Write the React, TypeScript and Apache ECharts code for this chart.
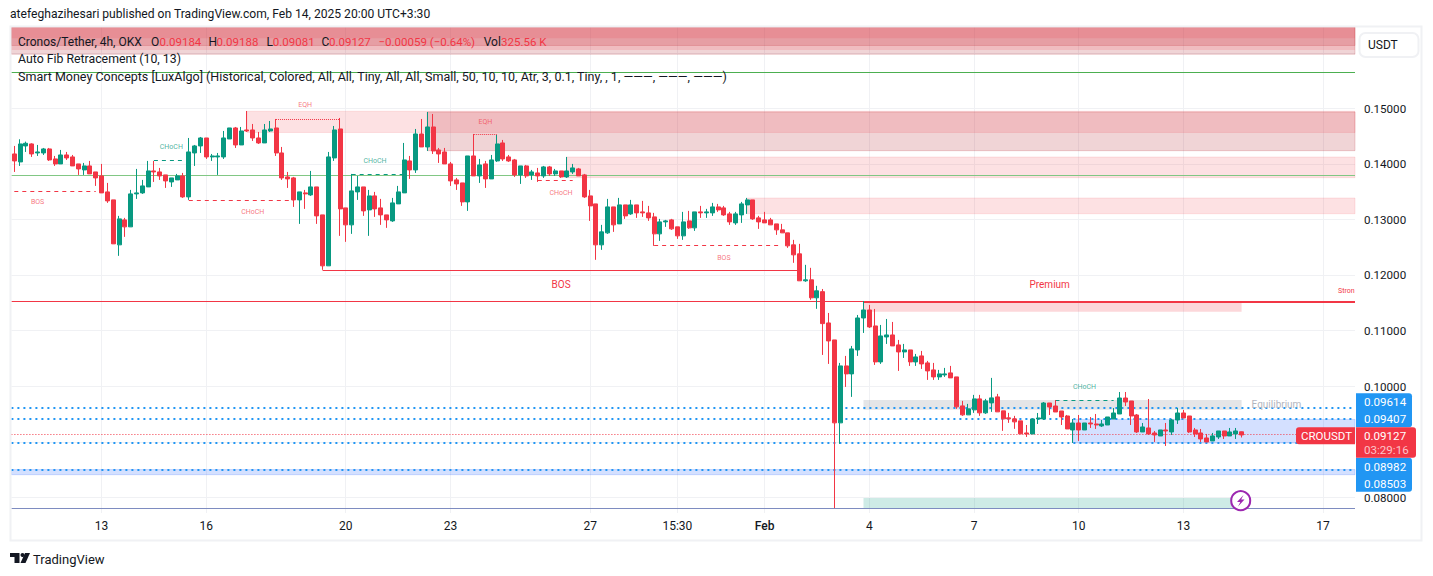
import React, { useEffect, useRef } from "react";
import * as echarts from "echarts";

// Price tables, rows are [open, close, low, high]
const candlesA: number[][] = [
[.1419,.14064,.13866,.14334],[.14046,.1437,.13974,.14454],[.14334,.14382,.14226,.14412],[.1437,.1419,.14136,.14382],[.14208,.14226,.14154,.14352],
[.14208,.1428,.14172,.14298],[.1428,.14082,.14064,.14298],[.141,.1401,.13974,.14154],[.1401,.14172,.1401,.14262],[.14172,.14118,.14082,.14226],
[.14136,.13974,.13974,.14172],[.1401,.1392,.13812,.1401],[.13902,.13974,.13812,.14028],[.13974,.1383,.1383,.14064],[.13866,.13758,.13614,.13866],
[.13794,.13488,.13488,.1401],[.13506,.13344,.13308,.13668],[.13362,.1257,.1257,.13362],[.12552,.1302,.12354,.13074],[.13002,.12876,.12696,.13038],
[.12876,.1347,.12876,.13542],[.1347,.13488,.1338,.1392],[.13488,.13614,.1347,.13722],[.13596,.13884,.13596,.14064],[.13884,.13866,.13686,.14064],
[.13866,.13794,.13722,.13938],[.13812,.13704,.13578,.13812],[.13686,.13758,.13596,.13758],[.13722,.13794,.13722,.1383],[.13794,.13416,.13398,.13848],
[.13416,.14226,.13362,.14478],[.14208,.14334,.13974,.14352],[.14334,.14478,.14208,.14496],[.14478,.14136,.141,.14478],[.14136,.14154,.14064,.1419],
[.14136,.14154,.13812,.14208],[.14136,.14478,.141,.14604],[.1446,.14658,.1446,.14658],[.14658,.14352,.14298,.14676],[.14352,.14604,.14352,.14676],
[.14622,.14604,.14586,.14964],[.14622,.14478,.14424,.1473],[.14478,.14388,.1437,.14586],[.14388,.14622,.14388,.1473],[.14604,.1464,.14586,.14784],
[.14658,.14208,.14154,.1482],[.14208,.13758,.13722,.14316],[.13776,.1374,.13578,.13866],[.13758,.13362,.13236,.13776],[.13362,.13506,.1293,.13506],
];
const candlesB: number[][] = [
[.13488,.1347,.132,.13542],[.13452,.13596,.13434,.13884],[.13596,.13074,.1293,.13596],[.13092,.12174,.12102,.13092],[.12174,.14136,.12174,.14226],
[.14118,.14622,.14064,.14694],[.1464,.132,.12714,.14838],[.13218,.12912,.12606,.13218],[.12912,.13524,.1275,.1383],[.13506,.13596,.13362,.13794],
[.13596,.13164,.13074,.13596],[.13182,.13434,.12714,.13542],[.13434,.132,.13056,.13506],[.13218,.13092,.12912,.1338],[.13092,.13002,.12858,.13092],
[.12984,.13308,.12966,.13398],[.1329,.13506,.1329,.13614],[.13488,.14082,.13488,.14388],[.14064,.13902,.1374,.14154],[.13902,.1455,.13848,.1464],
[.1455,.14316,.14316,.1482],[.14316,.14676,.14244,.14946],[.14676,.14244,.1419,.1491],[.14262,.1419,.14028,.14298],[.14226,.1401,.1401,.14298],
[.1401,.13704,.13614,.14046],[.13722,.1365,.13542,.13758],[.13668,.13326,.13254,.13668],[.13326,.14154,.13164,.14154],[.14154,.13794,.13794,.1455],
[.13794,.13992,.13668,.141],[.1401,.1374,.13578,.14064],[.1374,.14082,.1374,.14172],[.14064,.1437,.14046,.14532],[.14388,.141,.14064,.14442],
[.14136,.14064,.14046,.14172],[.14082,.13812,.13776,.141],[.13812,.13974,.1365,.13974],[.13974,.13794,.13758,.13992],[.13812,.13866,.13722,.13902],
[.13848,.13794,.13686,.13938],[.13794,.13956,.13758,.13974],[.13956,.1383,.13794,.13974],[.1383,.13884,.13794,.1392],[.13884,.13776,.13758,.13884],
[.13776,.13884,.13758,.14136],[.13866,.13938,.1383,.1401],[.1392,.13794,.13794,.13938],[.13812,.13416,.13398,.1383],[.13434,.13254,.12984,.13542],
[.1329,.12552,.12282,.1329],
];
const candlesC: number[][] = [
[.12552,.12786,.12462,.12912],[.12768,.13236,.1275,.1338],[.13236,.12912,.12786,.13236],[.1293,.13272,.1293,.13398],[.13272,.13074,.1302,.13272],
[.1311,.13272,.13092,.13362],[.13272,.13128,.13038,.13272],[.13146,.13128,.13056,.13344],[.13128,.13038,.12984,.13254],[.13056,.1275,.12534,.13128],
[.1275,.12966,.12624,.1302],[.12966,.12984,.12876,.13002],[.13002,.1284,.12822,.1302],[.12876,.12714,.1266,.12876],[.12714,.12966,.12642,.13146],
[.12984,.12858,.1284,.13164],[.12858,.13146,.12804,.13146],[.13146,.13128,.13038,.13254],[.13128,.13146,.13038,.132],[.13128,.13236,.13074,.13308],
[.13236,.13182,.13146,.1329],[.13218,.13092,.13074,.13254],[.1311,.12966,.12912,.13146],[.12948,.1311,.12912,.13146],[.13092,.1329,.12948,.13326],
[.13272,.13362,.1311,.13398],[.13362,.1302,.13002,.13362],[.13038,.12966,.1284,.13074],[.13002,.12948,.12948,.13146],[.13002,.12912,.12912,.13038],
[.1293,.12822,.12732,.1293],[.12822,.12768,.12768,.1293],[.12768,.12534,.12498,.12768],[.12552,.12372,.12228,.12642],[.1239,.11904,.11904,.1257],
[.11904,.11922,.11886,.12192],[.11922,.11598,.11562,.12138],[.11598,.11724,.114,.11814],
];
const candlesD: number[][] = [
[.11709,.11133,.10569,.11757],[.11145,.10821,.10407,.11325],[.10839,.09345,.07809,.10839],[.09345,.10371,.08967,.10425],[.10371,.10227,.09993,.10551],
[.10227,.10677,.09813,.10731],[.10659,.11235,.10551,.11289],[.11235,.11379,.10965,.11541],[.11379,.11073,.11055,.11469],[.11091,.10443,.10389,.11397],
[.10443,.10911,.10407,.11109],[.10893,.10929,.10767,.11217],[.10929,.10731,.10731,.11163],[.10749,.10623,.10281,.10839],[.10623,.10659,.10515,.10767],
[.10659,.10443,.10371,.10659],[.10443,.10533,.10371,.10587],[.10551,.10407,.10317,.10641],[.10425,.10281,.10119,.10461],[.10299,.10173,.10119,.10425],
[.10173,.10227,.10119,.10299],[.10209,.10227,.10173,.10335],[.10245,.10155,.10155,.10371],[.10173,.09633,.09597,.10173],[.09651,.09489,.09471,.09741],
[.09489,.09597,.09489,.09687],[.09579,.09777,.09525,.09849],[.09777,.09525,.09471,.09849],[.09525,.09741,.09507,.09777],[.09705,.09795,.09543,.10155],
[.09813,.09543,.09543,.09867],[.09561,.09417,.09201,.09561],[.09435,.09417,.09345,.09525],[.09417,.09363,.09237,.09471],[.09381,.09147,.09147,.09381],
[.09163,.09145,.09091,.09307],[.09145,.09415,.09145,.09415],[.09415,.09433,.09325,.09523],[.09415,.09703,.09397,.09721],[.09703,.09631,.09487,.09703],
[.09649,.09541,.09541,.09757],[.09559,.09451,.09307,.09559],[.09469,.09235,.09235,.09487],[.09217,.09343,.08983,.09415],[.09343,.09217,.09019,.09487],
[.09217,.09343,.09217,.09343],[.09343,.09325,.09253,.09451],[.09325,.09307,.09235,.09505],[.09289,.09325,.09271,.09397],[.09307,.09451,.09307,.09451],
[.09415,.09523,.09415,.09613],[.09505,.09793,.09505,.09901],[.09793,.09721,.09649,.09901],[.09739,.09469,.09307,.09739],[.09487,.09181,.09163,.09505],
[.09181,.09271,.09181,.09343],[.09253,.09145,.09127,.09775],[.09163,.09127,.09001,.09199],[.09109,.09217,.09109,.09217],[.09217,.09199,.08929,.09343],
[.09181,.09397,.09127,.09415],[.09397,.09523,.09325,.09613],[.09523,.09433,.09433,.09577],[.09469,.09181,.09163,.09469],[.09217,.09145,.09091,.09253],
[.09163,.09055,.09001,.09235],[.09073,.09001,.09001,.09145],[.09019,.09109,.09019,.09163],[.09091,.09199,.09055,.09199],[.09199,.09109,.09055,.09199],
[.09109,.09181,.09109,.09253],[.09145,.09199,.09055,.09253],[.09184,.09127,.09081,.09188],
];

const barCount = 231;
const tickIndices = [15, 33, 57, 75, 99, 114, 129, 147, 165, 183, 201, 225];
const tickLabels = ["13", "16", "20", "23", "27", "15:30", "Feb", "4", "7", "10", "13", "17"];
const gridPrices = [0.08, 0.09, 0.1, 0.11, 0.12, 0.13, 0.14, 0.15, 0.16];
const priceLabels = [0.08, 0.1, 0.11, 0.12, 0.13, 0.14, 0.15];
const priceTop = 0.16477;
const priceBottom = 0.07721;

// zones: [fromIndex, toIndex (-1 = right edge), topPrice, bottomPrice]
const zonesLightRed = [
  [40, -1, 0.14959, 0.14577],
  [95, -1, 0.14135, 0.13762],
  [126, -1, 0.13396, 0.13113],
];
const zonesDarkRed = [
  [71, -1, 0.14946, 0.14249],
  [-1, -1, 0.16477, 0.15986],
  [-1, -1, 0.16477, 0.16144],
];
const zonesTopLight = [
  [-1, -1, 0.16477, 0.16063],
  [-1, -1, 0.16477, 0.16274],
];
const zonesPremium = [[146, 211, 0.11513, 0.11348]];
const zonesEquilibrium = [[146, 211, 0.09757, 0.09582]];
const zonesDiscount = [[146, 211, 0.07991, 0.07798]];
const zonesBlue = [
  [182, -1, 0.09407, 0.08982],
  [-1, -1, 0.08503, 0.08411],
];

// segments: [fromIndex, toIndex, price]
const dashedRed = [[0, 14, 0.13517], [30, 48, 0.13355], [90, 96, 0.13703], [110, 132, 0.12544]];
const dashedGreen = [[24, 29, 0.14076], [58, 67, 0.13823], [179, 189, 0.09744]];
const dottedEqh = [[45, 56, 0.14814], [79, 83, 0.14544]];
const solidBos = [[53, 135, 0.12094]];
const strongHigh = [[146, -1, 0.11525]];

// full-width levels
const fibGreen = [0.15658];
const fibLightGreen = [0.13805];
const fibRed = [0.11523];
const fibBlue = [0.07802];
const supportLevels = [0.09614, 0.09407, 0.08982, 0.08503];
const lastPrice = [0.09127];

// labels: [index, price, text]
const smallRedLabels: [number, number, string][] = [
  [4, 0.13324, "BOS"], [41, 0.13144, "CHoCH"], [50, 0.15072, "EQH"], [81, 0.14757, "EQH"], [94, 0.13486, "CHoCH"], [122, 0.12324, "BOS"],
];
const smallGreenLabels: [number, number, string][] = [
  [27, 0.14315, "CHoCH"], [62, 0.14063, "CHoCH"], [184, 0.09991, "CHoCH"],
];
const zoneLabels: [number, number, string][] = [[94, 0.11829, "BOS"], [178, 0.11829, "Premium"]];
const strongLabel: [number, number, string][] = [[229, 0.11715, "Stron"]];
const equilibriumLabel: [number, number, string][] = [[217, 0.09667, "Equilibrium"]];

const headerText = "atefeghazihesari published on TradingView.com, Feb 14, 2025 20:00 UTC+3:30";
const indicatorLines = [
  "Auto Fib Retracement (10, 13)",
  "Smart Money Concepts [LuxAlgo] (Historical, Colored, All, All, Tiny, All, All, Small, 50, 10, 10, Atr, 3, 0.1, Tiny, , 1, ———, ———, ———)",
];
const legendPieces: [number, string, boolean][] = [
  [18, "Cronos/Tether, 4h, OKX", false], [151, "O", false], [159.5, "0.09184", true], [208.6, "H", false], [216.6, "0.09188", true],
  [266.6, "L", false], [272.8, "0.09081", true], [321.4, "C", false], [329, "0.09127", true],
  [378.5, "−0.00059 (−0.64%)", true], [483.7, "Vol", false], [501, "325.56 K", true],
];
const blueTagsTop = ["0.09614", "0.09407"];
const blueTagsBottom = ["0.08982", "0.08503"];

const FONT = "Roboto, sans-serif";
const GREEN = "#089981";
const RED = "#f23645";
const GRID = "#f0f1f4";

const zoneSeries = (name: string, rows: number[][], fill: string, stroke: string) => ({
  type: "custom", name, silent: true, z: 2, data: rows, dimensions: ["a", "b", "t", "u"],
  encode: { x: [0, 1], y: [2, 3] },
  renderItem: (params: any, api: any) => {
    const cs = params.coordSys;
    const from = api.value(0), to = api.value(1);
    const x0 = from < 0 ? cs.x : api.coord([from, 0.1])[0];
    const x1 = to < 0 ? cs.x + cs.width : api.coord([to, 0.1])[0];
    const y0 = api.coord([0, api.value(2)])[1];
    const y1 = api.coord([0, api.value(3)])[1];
    return {
      type: "rect", shape: { x: x0, y: y0, width: x1 - x0, height: y1 - y0 },
      style: { fill, stroke: stroke || undefined, lineWidth: stroke ? 1 : 0 },
    };
  },
});

const segmentSeries = (name: string, rows: number[][], stroke: string, lineWidth: number, lineDash: any, z = 3) => ({
  type: "custom", name, silent: true, z, data: rows, dimensions: ["a", "b", "p"],
  encode: { x: [0, 1], y: 2 },
  renderItem: (params: any, api: any) => {
    const cs = params.coordSys;
    const from = api.value(0), to = api.value(1);
    const x0 = from < 0 ? cs.x : api.coord([from, 0.1])[0];
    const x1 = to < 0 ? cs.x + cs.width : api.coord([to, 0.1])[0];
    const raw = api.coord([0, api.value(2)])[1];
    const y = lineWidth % 2 ? Math.floor(raw) + 0.5 : Math.round(raw);
    return { type: "line", shape: { x1: x0, y1: y, x2: x1, y2: y }, style: { stroke, lineWidth, lineDash } };
  },
});

const levelSeries = (name: string, prices: number[], stroke: string, lineWidth: number, lineDash: any, z = 3) =>
  segmentSeries(name, prices.map((p) => [-1, -1, p]), stroke, lineWidth, lineDash, z);

const labelSeries = (name: string, rows: [number, number, string][], fill: string, fontSize: number, align = "center") => ({
  type: "custom", name, silent: true, z: 6, data: rows.map((r) => [r[0], r[1], r[2]]), dimensions: ["i", "p", { name: "t", type: "ordinal" }],
  encode: { x: 0, y: 1 },
  renderItem: (_params: any, api: any) => {
    const pt = api.coord([api.value(0), api.value(1)]);
    return {
      type: "text", x: pt[0], y: pt[1],
      style: { text: rows[_params.dataIndex][2], fill, fontSize, fontFamily: FONT, align, verticalAlign: "middle" },
    };
  },
});

const verticalGrid = {
  type: "custom", name: "timeGrid", silent: true, z: 1, data: tickIndices.map((i) => [i, 0.1]),
  encode: { x: 0, y: 1 },
  renderItem: (params: any, api: any) => {
    const cs = params.coordSys;
    const x = Math.floor(api.coord([api.value(0), 0.1])[0]) + 0.5;
    return { type: "line", shape: { x1: x, y1: cs.y, x2: x, y2: cs.y + cs.height }, style: { stroke: GRID, lineWidth: 1 } };
  },
};

const textEl = (x: number, y: number, text: string, fill: string, fontSize = 12, extra: any = {}) => ({
  type: "text", x, y, z: 50,
  style: { text, fill, fontSize, fontFamily: FONT, verticalAlign: "middle", ...extra },
});

export default function App() {
  const ref = useRef<HTMLDivElement>(null);
  useEffect(() => {
    document.body.style.margin = "0";
    const chart = echarts.init(ref.current!, null, { renderer: "svg" });
    const candles = [...candlesA, ...candlesB, ...candlesC, ...candlesD];
    const categories = Array.from({ length: barCount }, (_, i) => String(i));
    chart.setOption({
      animation: false,
      backgroundColor: "#ffffff",
      grid: { left: 11.4, right: 78, top: 27, bottom: 63, containLabel: false },
      xAxis: {
        type: "category", data: categories, boundaryGap: true,
        axisLine: { show: false }, axisTick: { show: false }, splitLine: { show: false },
        axisLabel: {
          margin: 7, fontSize: 12, fontFamily: FONT, color: "#131722", hideOverlap: false,
          interval: (i: number) => tickIndices.includes(i),
          formatter: (_v: string, i: number) => {
            const t = tickLabels[tickIndices.indexOf(i)];
            return t === "Feb" ? "{b|Feb}" : t;
          },
          rich: { b: { fontWeight: 500, fontSize: 12, fontFamily: FONT, color: "#131722" } },
        },
      },
      yAxis: {
        type: "value", position: "right", min: priceBottom, max: priceTop, scale: false,
        axisLine: { show: false }, axisTick: { show: false }, splitLine: { show: false },
        axisLabel: {
          margin: 9, fontSize: 11.6, fontFamily: FONT, color: "#131722",
          customValues: priceLabels,
          formatter: (v: number) => v.toFixed(5),
        },
      },
      series: [
        verticalGrid,
        levelSeries("priceGrid", gridPrices, GRID, 1, undefined, 1),
        zoneSeries("zonesDark", zonesDarkRed, "rgba(178,40,51,0.2)", "rgba(178,40,51,0.2)"),
        zoneSeries("zonesTop", zonesTopLight, "rgba(242,54,69,0.15)", ""),
        zoneSeries("zonesLight", zonesLightRed, "rgba(242,54,69,0.15)", "rgba(242,54,69,0.12)"),
        zoneSeries("premium", zonesPremium, "rgba(242,54,69,0.2)", ""),
        zoneSeries("equilibrium", zonesEquilibrium, "rgba(120,123,134,0.2)", ""),
        zoneSeries("discount", zonesDiscount, "rgba(8,153,129,0.2)", ""),
        zoneSeries("blue", zonesBlue, "rgba(41,98,255,0.2)", "rgba(41,98,255,0.2)"),
        levelSeries("fibGreen", fibGreen, "#4caf50", 1, undefined),
        levelSeries("fibLightGreen", fibLightGreen, "#81c784", 1, undefined),
        levelSeries("fibRed", fibRed, RED, 1, undefined),
        levelSeries("fibBlue", fibBlue, "#7e8cc0", 1, undefined),
        segmentSeries("strongHigh", strongHigh, RED, 2, undefined),
        levelSeries("support", supportLevels, "#2196f3", 2, [2, 4]),
        levelSeries("last", lastPrice, RED, 1, [1, 2]),
        segmentSeries("dashedRed", dashedRed, RED, 1, [4, 4]),
        segmentSeries("dashedGreen", dashedGreen, GREEN, 1, [4, 4]),
        segmentSeries("dottedEqh", dottedEqh, RED, 1, [1, 1]),
        segmentSeries("solidBos", solidBos, RED, 1, undefined),
        {
          type: "candlestick", name: "CROUSDT", z: 5, barWidth: 4.5, data: candles, silent: true,
          itemStyle: { color: GREEN, color0: RED, borderColor: GREEN, borderColor0: RED, borderWidth: 1 },
        },
        labelSeries("smallRed", smallRedLabels, "rgba(242,54,69,0.7)", 7),
        labelSeries("smallGreen", smallGreenLabels, "rgba(8,153,129,0.75)", 7),
        labelSeries("zoneLabels", zoneLabels, RED, 10),
        labelSeries("strong", strongLabel, RED, 7),
        labelSeries("equilibriumText", equilibriumLabel, "#b2b5be", 10),
      ],
      graphic: [
        { type: "rect", z: 40, silent: true, shape: { x: 10.5, y: 26.5, width: 1411, height: 514 }, style: { fill: "none", stroke: "#f0f1f4", lineWidth: 2 } },
        textEl(10, 14, headerText, "#131722", 12.1),
        ...legendPieces.map((p) => textEl(p[0], 42, p[1], p[2] ? RED : "#131722", p[2] ? 11.5 : 12)),
        ...indicatorLines.map((t, i) => textEl(18, 59 + i * 17, t, "#131722", i === 0 ? 12.3 : 12.5)),
        { type: "rect", z: 45, shape: { x: 1359.5, y: 33, width: 59, height: 24, r: 6 }, style: { fill: "#ffffff", stroke: "#f0f1f4", lineWidth: 2 } },
        textEl(1368, 45, "USDT", "#131722", 12),
        { type: "rect", z: 45, shape: { x: 1356, y: 393.3, width: 56, height: 34, r: [0, 3, 3, 0] }, style: { fill: "#2196f3" } },
        { type: "rect", z: 45, shape: { x: 1356, y: 457.7, width: 56, height: 34, r: [0, 3, 3, 0] }, style: { fill: "#2196f3" } },
        { type: "rect", z: 46, shape: { x: 1356, y: 427.3, width: 60, height: 30.4, r: [0, 3, 3, 0] }, style: { fill: RED } },
        { type: "rect", z: 46, shape: { x: 1296, y: 427.3, width: 59, height: 17, r: [3, 0, 0, 3] }, style: { fill: RED } },
        textEl(1364, 401.5, blueTagsTop[0], "#ffffff", 11.6),
        textEl(1364, 419, blueTagsTop[1], "#ffffff", 11.6),
        textEl(1364, 436, "0.09127", "#ffffff", 11.6),
        textEl(1364, 449.5, "03:29:16", "#fcc4c9", 11.6),
        textEl(1364, 466.5, blueTagsBottom[0], "#ffffff", 11.6),
        textEl(1364, 484, blueTagsBottom[1], "#ffffff", 11.6),
        textEl(1301, 436, "CROUSDT", "#ffffff", 11.5),
        { type: "circle", z: 45, shape: { cx: 1240.7, cy: 500.7, r: 9.5 }, style: { fill: "#ffffff", stroke: "#9c27b0", lineWidth: 2 } },
        { type: "polygon", z: 46, shape: { points: [[1243.5, 495], [1237, 502], [1240.3, 502], [1238, 506.5], [1244.5, 499.5], [1241.2, 499.5]] }, style: { fill: "#9c27b0" } },
        { type: "polygon", z: 45, shape: { points: [[10, 553], [19.5, 553], [19.5, 563], [14.5, 563], [14.5, 557], [10, 557]] }, style: { fill: "#131722" } },
        { type: "circle", z: 45, shape: { cx: 22.5, cy: 555, r: 2 }, style: { fill: "#131722" } },
        { type: "polygon", z: 45, shape: { points: [[25, 553], [30, 553], [25.5, 563], [20.5, 563]] }, style: { fill: "#131722" } },
        textEl(33, 559, "TradingView", "#131722", 13),
      ],
    });
    return () => chart.dispose();
  }, []);
  return <div ref={ref} style={{ position: "absolute", left: 0, top: 0, width: 1433, height: 576 }} />;
}
